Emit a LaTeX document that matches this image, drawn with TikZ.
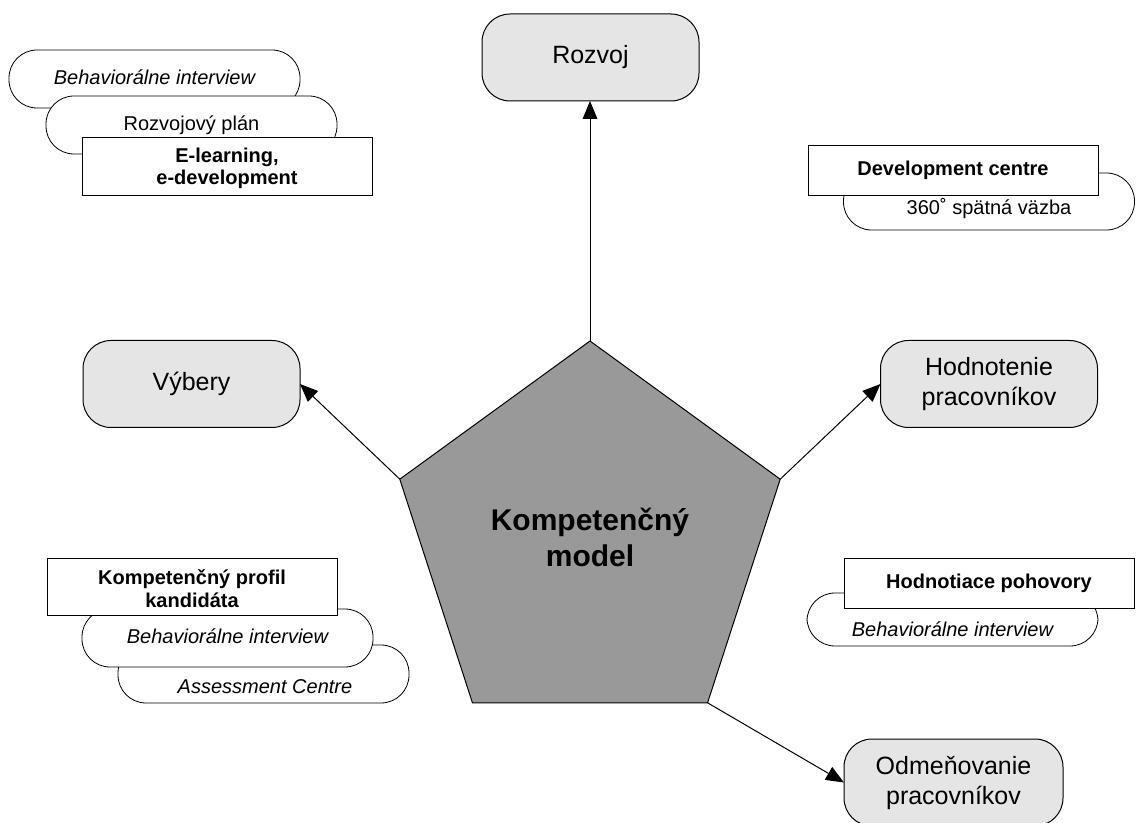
\documentclass[tikz,border=0pt]{standalone}
\usepackage{fontspec}
\setmainfont{Liberation Sans}
\usetikzlibrary{shapes.geometric,arrows.meta,calc}
\definecolor{boxgray}{gray}{0.9}
\definecolor{coregray}{gray}{0.6}
\begin{document}
\begin{tikzpicture}[x=0.75pt,y=-0.75pt,
  every node/.style={inner sep=0pt, outer sep=0pt},
  mainbox/.style={draw=black, fill=boxgray, line width=0.75pt, rounded corners=21pt,
    minimum width=162.75pt, minimum height=65.25pt, align=center,
    font=\fontsize{18.75}{22.5}\selectfont},
  pill/.style={draw=black, fill=white, line width=0.6pt, rounded corners=21pt,
    minimum width=218.25pt, minimum height=43.5pt},
  plate/.style={draw=black, fill=white, line width=0.6pt,
    minimum width=217.5pt, minimum height=37.5pt},
  note/.style={anchor=base, font=\fontsize{15}{16.5}\selectfont},
  notei/.style={note, font=\fontsize{15}{16.5}\selectfont\itshape},
  noteb/.style={anchor=center, align=center, font=\fontsize{15}{16.5}\selectfont\bfseries},
  link/.style={draw=black, line width=0.75pt, -{Triangle[length=13.5pt, width=11pt]}}
]
\path[use as bounding box] (0,0) rectangle (1136,823);
\clip (0,0) rectangle (1136,823);

% core of the model
\node[regular polygon, regular polygon sides=5, minimum size=300pt,
      draw=black, fill=coregray, line width=0.75pt] (km) at (590,541) {};
\node[anchor=center, align=center, font=\fontsize{22.5}{27}\selectfont\bfseries]
  (kmt) at (590,537) {Kompetenčný\\model};

% application areas
\node[mainbox] (rozvoj) at (590.5,57.5) {Rozvoj};
\node[mainbox] (vyber) at (191.5,384) {Výbery};
\node[mainbox] (hodn) at (989,384) {Hodnotenie\\pracovníkov};
\node[mainbox, minimum width=164.25pt] (odm) at (953.5,782.5) {Odmeňovanie\\pracovníkov};

\draw[link] (km.corner 1) -- (km.corner 1 |- rozvoj.south);
\draw[link] (km.corner 2) -- (vyber.east);
\draw[link] (km.corner 5) -- (hodn.west);
\draw[link] (km.corner 4) -- (odm.west);

% tools for development
\node[pill] (tlA) at (154.5,79) {};
\node[notei] (tlAt) at (154.5,85) {Behaviorálne interview};
\node[pill] (tlB) at (191.5,125) {};
\node[note] (tlBt) at (191.5,130.7) {Rozvojový plán};
\node[plate, minimum height=43.5pt] (tlC) at (227,166) {};
\node[noteb] (tlCt) at (227,168) {E-learning,\\e-development};

% tools for appraisal (upper right)
\node[pill, minimum height=42.75pt] (trB) at (989,201.5) {};
\node[note] (trBt) at (989,215) {360˚ spätná väzba};
\node[plate] (trA) at (953,170) {};
\node[noteb] (trAt) at (953,170) {Development centre};

% tools for appraisal interviews
\node[pill, minimum height=39.75pt] (brB) at (952.5,619.5) {};
\node[notei] (brBt) at (952.5,636.7) {Behaviorálne interview};
\node[plate] (brA) at (989,583) {};
\node[noteb] (brAt) at (989,583) {Hodnotiace pohovory};

% tools for selection
\node[pill] (blC) at (263.5,674) {};
\node[notei] (blCt) at (265,693) {Assessment Centre};
\node[pill] (blB) at (227.5,638) {};
\node[notei] (blBt) at (227.5,643) {Behaviorálne interview};
\node[plate, minimum height=42.75pt] (blA) at (192,586.5) {};
\node[noteb, font=\fontsize{15}{17.5}\selectfont\bfseries] (blAt) at (192,588.5) {Kompetenčný profil\\kandidáta};
\end{tikzpicture}
\end{document}
